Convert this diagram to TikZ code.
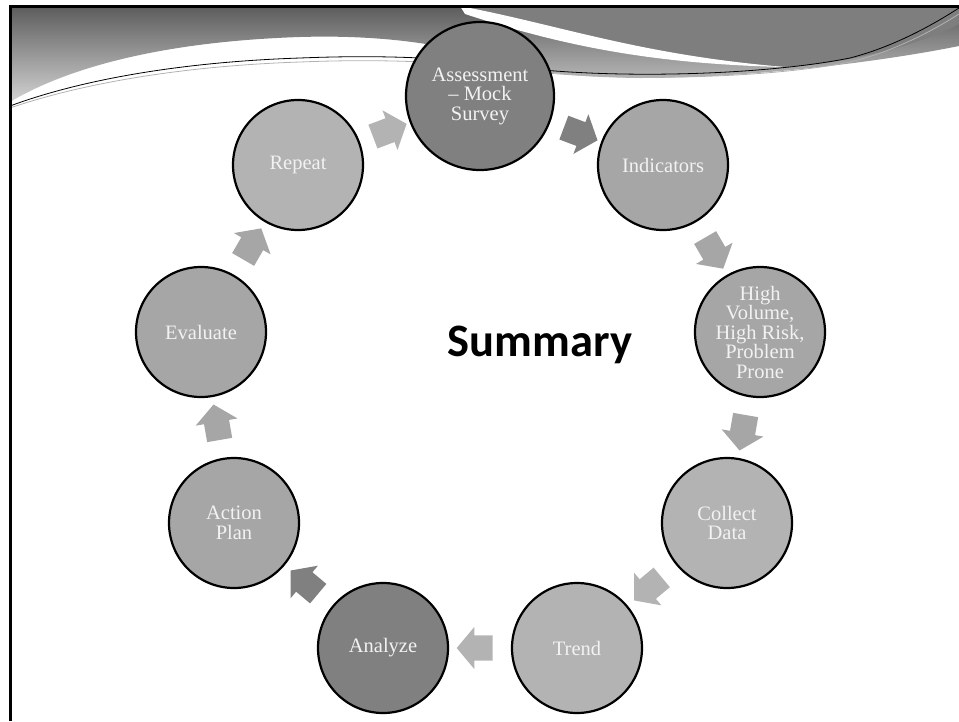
\documentclass[tikz,border=0pt]{standalone}
\usepackage{fontspec}
\setmainfont{Liberation Serif}
\newfontfamily\titlefont{Carlito}
\usetikzlibrary{shapes.arrows}

\definecolor{stagedark}{HTML}{808080}
\definecolor{stagemid}{HTML}{A6A6A6}
\definecolor{stagelight}{HTML}{B3B3B3}
\definecolor{bannertop}{HTML}{5C5C5C}
\definecolor{bannerbottom}{HTML}{D2D2D2}
\definecolor{bannerswoosh}{HTML}{7E7E7E}

\tikzset{
	stage/.style={circle, draw=black, line width=2.2pt, minimum size=130pt, inner sep=0pt, align=center, text=white!95!black, font=\fontsize{20.5}{19.5}\selectfont},
	flowarrow/.style={single arrow, draw=none, minimum height=36pt, minimum width=42pt, single arrow head extend=8.5pt, single arrow tip angle=100, inner xsep=0pt, inner ysep=12.5pt, sloped, allow upside down},
}

\begin{document}
\begin{tikzpicture}[x=1pt, y=-1pt]
	\useasboundingbox (0, 0) rectangle (959, 721);

	% banner
	\shade[top color=bannertop, bottom color=bannerbottom] (10, 6) -- (959, 6) -- (959, 46) .. controls (880, 62) and (750, 78) .. (640, 78) .. controls (560, 77) and (520, 70) .. (480, 56) .. controls (460, 50) and (400, 34) .. (300, 37) .. controls (150, 42) and (60, 72) .. (10, 102) -- cycle;
	\fill[bannerswoosh] (460, 6) .. controls (560, 25) and (640, 55) .. (785, 67) .. controls (860, 62) and (925, 42) .. (959, 24) -- (959, 6) -- cycle;
	\fill[white] (460, 6) .. controls (560, 25) and (640, 55) .. (785, 67) .. controls (650, 64) and (560, 45) .. (465, 14) -- cycle;
	\draw[black!30, line width=0.8pt] (10, 108) .. controls (80, 84) and (180, 66) .. (300, 62) .. controls (400, 58) and (460, 64) .. (500, 68) .. controls (600, 82) and (760, 80) .. (850, 62) .. controls (900, 50) and (940, 26) .. (959, 14);
	\draw[black, line width=0.8pt] (10, 106) .. controls (80, 80) and (180, 62) .. (300, 58) .. controls (400, 54) and (460, 60) .. (500, 65) .. controls (600, 80) and (760, 76) .. (850, 58) .. controls (900, 45) and (940, 20) .. (959, 8);

	\draw[line width=3pt] (10, 721) -- (10, 6) -- (959, 6);

	\node (title) at (540, 345) {\titlefont\bfseries\fontsize{46.5}{46.5}\selectfont Summary};

	\node[stage, fill=stagedark, minimum size=148pt] (assess) at (480, 96) {Assessment\\– Mock\\Survey};
	\node[stage, fill=stagemid] (indic) at (663, 165) {Indicators};
	\node[stage, fill=stagemid] (hvhr) at (760, 332) {High\\Volume,\\High Risk,\\Problem\\Prone};
	\node[stage, fill=stagelight] (collect) at (727, 523) {Collect\\Data};
	\node[stage, fill=stagelight] (trend) at (577, 648) {Trend};
	\node[stage, fill=stagedark] (analyze) at (383, 648) {Analyze};
	\node[stage, fill=stagemid] (action) at (234, 523) {Action\\Plan};
	\node[stage, fill=stagemid] (evaluate) at (201, 332) {Evaluate};
	\node[stage, fill=stagelight] (repeat) at (298, 165) {Repeat};

	\path (repeat) -- node[flowarrow, fill=stagelight] {} (assess);
	\path (assess) -- node[flowarrow, fill=stagedark] {} (indic);
	\path (indic) -- node[flowarrow, fill=stagemid] {} (hvhr);
	\path (hvhr) -- node[flowarrow, fill=stagemid] {} (collect);
	\path (collect) -- node[flowarrow, fill=stagelight] {} (trend);
	\path (trend) -- node[flowarrow, fill=stagelight] {} (analyze);
	\path (analyze) -- node[flowarrow, fill=stagedark] {} (action);
	\path (action) -- node[flowarrow, fill=stagemid] {} (evaluate);
	\path (evaluate) -- node[flowarrow, fill=stagemid] {} (repeat);

\end{tikzpicture}
\end{document}
